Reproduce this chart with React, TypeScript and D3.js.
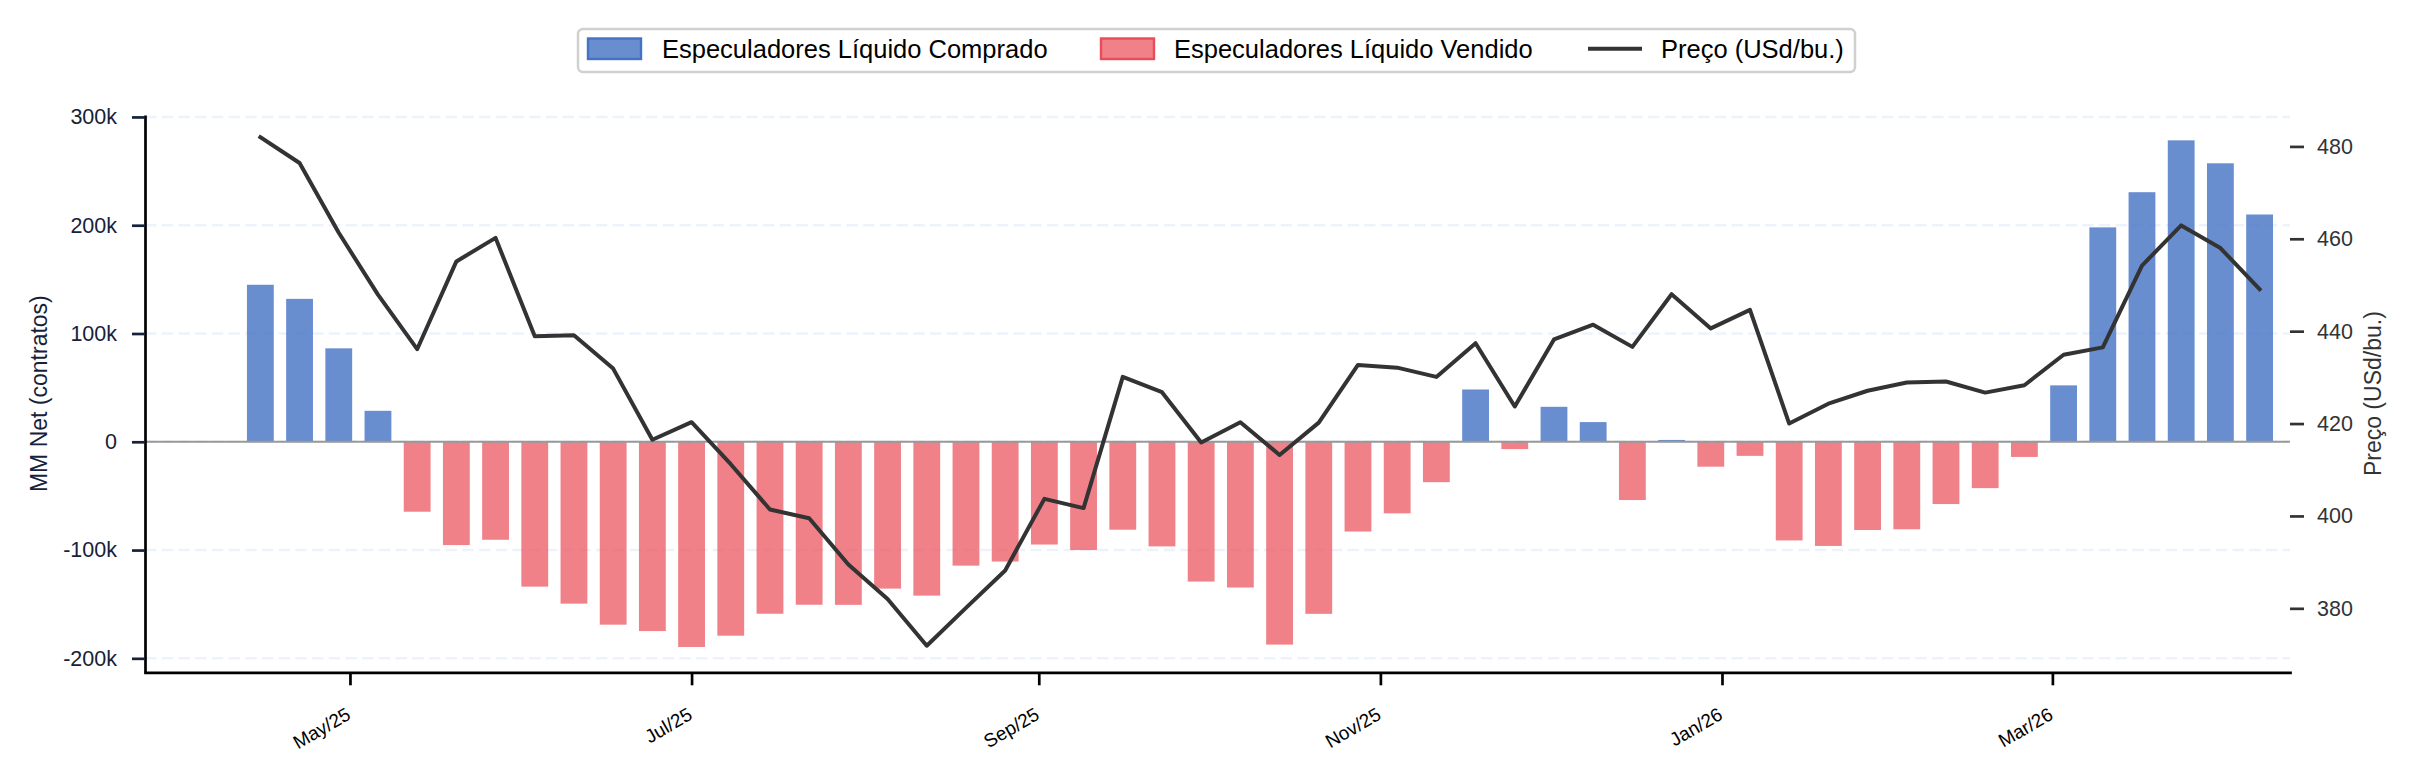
import React, { useRef, useEffect } from "react";
import * as d3 from "d3";

// weekly COT report dates (Tuesdays)
const reportDates = [
  "2025-04-15", "2025-04-22", "2025-04-29", "2025-05-06", "2025-05-13", "2025-05-20", "2025-05-27",
  "2025-06-03", "2025-06-10", "2025-06-17", "2025-06-24", "2025-07-01", "2025-07-08", "2025-07-15",
  "2025-07-22", "2025-07-29", "2025-08-05", "2025-08-12", "2025-08-19", "2025-08-26", "2025-09-02",
  "2025-09-09", "2025-09-16", "2025-09-23", "2025-09-30", "2025-10-07", "2025-10-14", "2025-10-21",
  "2025-10-28", "2025-11-04", "2025-11-11", "2025-11-18", "2025-11-25", "2025-12-02", "2025-12-09",
  "2025-12-16", "2025-12-23", "2025-12-30", "2026-01-06", "2026-01-13", "2026-01-20", "2026-01-27",
  "2026-02-03", "2026-02-10", "2026-02-17", "2026-02-24", "2026-03-03", "2026-03-10", "2026-03-17",
  "2026-03-24", "2026-03-31", "2026-04-07",
];

// managed money net position (contracts)
const mmNet = [
  145000, 132000, 86300, 28600, -64600, -95400, -90500, -133800, -149500, -168900, -174800,
  -189500, -179100, -158800, -150500, -150600, -135600, -142100, -114400, -110600, -94900,
  -100000, -81200, -96600, -129100, -134600, -187300, -158900, -82900, -66100, -37300, 48300,
  -6800, 32300, 18200, -53800, 1700, -23000, -13000, -91100, -96200, -81500, -80800, -57500,
  -42800, -14000, 52100, 198000, 230500, 278400, 257200, 209900,
];

// price (USd/bu.)
const price = [
  482.0, 476.4, 461.3, 447.9, 436.1, 455.1, 460.2, 438.9, 439.1, 431.9, 416.5, 420.3, 411.2,
  401.4, 399.5, 389.5, 382.0, 371.9, 380.1, 388.2, 403.7, 401.7, 430.1, 426.8, 415.9, 420.3,
  413.2, 420.2, 432.7, 432.1, 430.1, 437.4, 423.7, 438.2, 441.4, 436.6, 448.0, 440.6, 444.6,
  420.0, 424.3, 427.1, 428.9, 429.1, 426.7, 428.3, 434.9, 436.5, 454.2, 462.9, 458.0, 449.1,
];

const leftTicks = [-200000, -100000, 0, 100000, 200000, 300000];
const rightTicks = [380, 400, 420, 440, 460, 480];
const legendLabels = [
  "Especuladores Líquido Comprado",
  "Especuladores Líquido Vendido",
  "Preço (USd/bu.)",
];

const FONT = "'Liberation Sans', Arial, sans-serif";
const BLUE = "#4472C4";
const RED = "#E94B57";
const NAVY = "#16213a";

const App = () => {
  const svgRef = useRef(null);
  const width = 2416;
  const height = 781;

  useEffect(() => {
    const svg = d3.select(svgRef.current);
    svg.selectAll("*").remove();

    const left = 145, right = 2290, top = 115, bottom = 672.3;
    const DAY = 86400000;
    const dates = reportDates.map((s) => new Date(s + "T00:00:00Z"));
    const data = dates.map((d, i) => ({ date: d, net: mmNet[i], price: price[i] }));

    const x = d3.scaleUtc()
      .domain([+dates[0] - 20.6 * DAY, +dates[dates.length - 1] + 5.43 * DAY])
      .range([left, right]);
    const y = d3.scaleLinear().domain([-212900, 301800]).range([bottom, top]);
    const yR = d3.scaleLinear().domain([366.15, 486.8]).range([bottom, top]);

    svg.append("rect").attr("width", width).attr("height", height).attr("fill", "#fff");

    // dashed horizontal grid
    svg.append("g")
      .selectAll("line")
      .data(leftTicks)
      .enter()
      .append("line")
      .attr("x1", left).attr("x2", right)
      .attr("y1", (d) => y(d)).attr("y2", (d) => y(d))
      .attr("stroke", "#edf3fb")
      .attr("stroke-width", 2.5)
      .attr("stroke-dasharray", "11.5,5.2");

    // bars
    const halfW = 2.395 * DAY;
    svg.append("g")
      .selectAll("rect")
      .data(data)
      .enter()
      .append("rect")
      .attr("x", (d) => x(+d.date - halfW))
      .attr("width", (d) => x(+d.date + halfW) - x(+d.date - halfW))
      .attr("y", (d) => y(Math.max(0, d.net)))
      .attr("height", (d) => Math.abs(y(d.net) - y(0)))
      .attr("fill", (d) => (d.net >= 0 ? BLUE : RED))
      .attr("fill-opacity", (d) => (d.net >= 0 ? 0.8 : 0.7));

    // zero line
    svg.append("line")
      .attr("x1", left).attr("x2", right)
      .attr("y1", y(0)).attr("y2", y(0))
      .attr("stroke", "#999").attr("stroke-width", 2);

    // price line
    const line = d3.line().x((d) => x(d.date)).y((d) => yR(d.price));
    svg.append("path")
      .datum(data)
      .attr("d", line)
      .attr("fill", "none")
      .attr("stroke", "#333")
      .attr("stroke-width", 4)
      .attr("stroke-linejoin", "round")
      .attr("stroke-linecap", "square");

    // left axis
    const gL = svg.append("g")
      .attr("transform", `translate(${left},0)`)
      .call(d3.axisLeft(y).tickValues(leftTicks).tickSize(13).tickSizeOuter(0).tickPadding(15)
        .tickFormat((d) => (d === 0 ? "0" : `${d / 1000}k`)));
    gL.select(".domain").attr("stroke", "#000").attr("stroke-width", 2.7);
    gL.selectAll(".tick line").attr("stroke", NAVY).attr("stroke-width", 2.7);
    gL.selectAll(".tick text").attr("fill", NAVY).style("font-size", "21.5px").style("font-family", FONT);

    // right axis
    const gR = svg.append("g")
      .attr("transform", `translate(${right},0)`)
      .call(d3.axisRight(yR).tickValues(rightTicks).tickSize(14).tickPadding(13));
    gR.select(".domain").remove();
    gR.selectAll(".tick line").attr("stroke", "#333").attr("stroke-width", 2.7);
    gR.selectAll(".tick text").attr("fill", "#333").style("font-size", "21.5px").style("font-family", FONT);

    // bottom axis
    const gB = svg.append("g")
      .attr("transform", `translate(0,${bottom})`)
      .call(d3.axisBottom(x).ticks(d3.utcMonth.every(2)).tickSize(13).tickSizeOuter(0)
        .tickFormat(d3.utcFormat("%b/%y")));
    gB.select(".domain").attr("stroke", "#000").attr("stroke-width", 2.7).attr("stroke-linecap", "square");
    gB.selectAll(".tick line").attr("stroke", "#000").attr("stroke-width", 2.7);
    gB.selectAll(".tick text")
      .attr("y", null).attr("dy", null)
      .attr("text-anchor", "end")
      .attr("transform", "translate(1.5,46) rotate(-30)")
      .attr("fill", "#000")
      .style("font-size", "19px")
      .style("font-family", FONT);

    // axis titles
    svg.append("text")
      .attr("transform", `translate(47,${(top + bottom) / 2}) rotate(-90)`)
      .attr("text-anchor", "middle")
      .attr("fill", NAVY)
      .style("font-size", "23px").style("font-family", FONT)
      .text("MM Net (contratos)");
    svg.append("text")
      .attr("transform", `translate(2381,${(top + bottom) / 2}) rotate(-90)`)
      .attr("text-anchor", "middle")
      .attr("fill", "#333")
      .style("font-size", "23px").style("font-family", FONT)
      .text("Preço (USd/bu.)");

    // legend
    const lg = svg.append("g");
    lg.append("rect")
      .attr("x", 578).attr("y", 29).attr("width", 1277).attr("height", 43).attr("rx", 5)
      .attr("fill", "#fff").attr("stroke", "#d0d0d0").attr("stroke-width", 2.5);
    const items = [
      { kind: "patch", color: BLUE, op: 0.8, hx: 588, tx: 662 },
      { kind: "patch", color: RED, op: 0.7, hx: 1101, tx: 1174 },
      { kind: "line", color: "#333", op: 1, hx: 1588, tx: 1661 },
    ];
    items.forEach((it, i) => {
      if (it.kind === "patch") {
        lg.append("rect")
          .attr("x", it.hx).attr("y", 38.5).attr("width", 53).attr("height", 20.5)
          .attr("fill", it.color).attr("fill-opacity", it.op)
          .attr("stroke", it.color).attr("stroke-width", 2.4);
      } else {
        lg.append("line")
          .attr("x1", it.hx).attr("x2", it.hx + 54).attr("y1", 48.7).attr("y2", 48.7)
          .attr("stroke", it.color).attr("stroke-width", 4);
      }
      lg.append("text")
        .attr("x", it.tx).attr("y", 58.4)
        .attr("fill", "#000")
        .style("font-size", "25.5px").style("font-family", FONT)
        .text(legendLabels[i]);
    });
  }, []);

  return (
    <svg
      ref={svgRef}
      width={width}
      height={height}
      style={{ position: "absolute", left: 0, top: 0, display: "block" }}
    />
  );
};

export default App;
